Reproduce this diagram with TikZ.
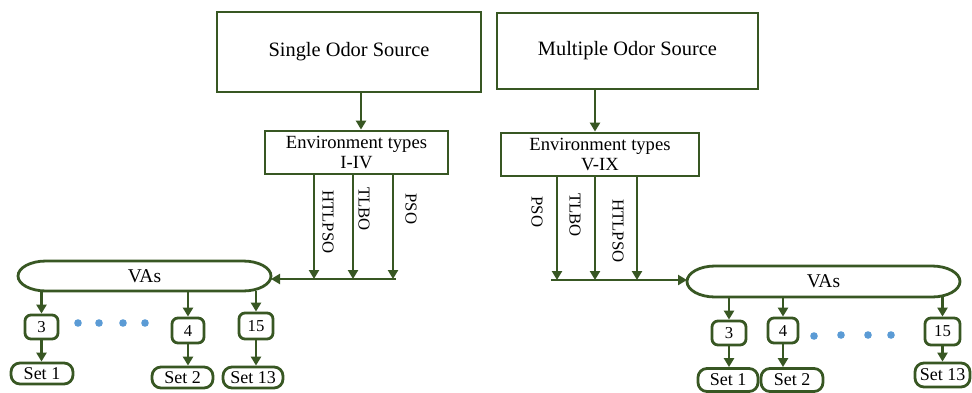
\documentclass[tikz,border=0pt]{standalone}
\usepackage{fontspec}
\setmainfont{Liberation Serif}
\usetikzlibrary{arrows.meta}
\definecolor{dgreen}{RGB}{56,87,35}
\definecolor{dotblue}{RGB}{91,155,213}
\newcommand\fBig{\fontsize{20.4}{24}\selectfont}
\newcommand\fEnv{\fontsize{18.6}{20}\selectfont}
\newcommand\fAlg{\fontsize{16.7}{18}\selectfont}
\newcommand\fVa{\fontsize{19.5}{22}\selectfont}
\newcommand\fNum{\fontsize{16.7}{18}\selectfont}
\newcommand\fSet{\fontsize{18}{20}\selectfont}
\begin{document}
\begin{tikzpicture}[x=1pt,y=-1pt,
  lw/.style={line width=2.8pt},
  srcbox/.style={draw=dgreen,lw,inner sep=0,font=\fBig},
  envbox/.style={draw=dgreen,lw,inner sep=0,align=center,font=\fEnv},
  alglabel/.style={rotate=-90,inner sep=0,font=\fAlg},
  vabox/.style={inner sep=0,outer sep=0,font=\fVa},
  numbox/.style={draw=dgreen,lw,rounded corners=6pt,inner sep=0,font=\fNum},
  setbox/.style={draw=dgreen,lw,rounded corners=9pt,inner sep=0,font=\fSet},
  arr/.style={draw=dgreen,lw,-{Triangle[length=9pt,width=10pt]}},
  dot/.style={fill=dotblue}
]
\useasboundingbox (0,0) rectangle (972,392);

% source boxes
\node[srcbox,minimum width=264pt,minimum height=80pt] (sos) at (349,52) {Single Odor Source};
\node[srcbox,minimum width=261pt,minimum height=76pt] (mos) at (627.5,51) {Multiple Odor Source};

% environment boxes
\node[envbox,minimum width=183pt,minimum height=43pt] (envL) at (356.5,152.5) {Environment types\\I-IV};
\node[envbox,minimum width=198pt,minimum height=43pt] (envR) at (600,154.5) {Environment types\\V-IX};

\coordinate (tL) at (361,0);
\coordinate (tR) at (595,0);
\draw[arr] (tL |- sos.south) -- (tL |- envL.north);
\draw[arr] (tR |- mos.south) -- (tR |- envR.north);

% VAs stadium shapes
\node[vabox,minimum width=253pt,minimum height=30pt] (vaL) at (144.5,276) {VAs};
\node[vabox,minimum width=273pt,minimum height=31pt] (vaR) at (823.5,281.5) {VAs};
\draw[draw=dgreen,lw] ([xshift=28pt]vaL.north west) -- ([xshift=-28pt]vaL.north east)
  arc[start angle=-90,end angle=90,x radius=28,y radius=15]
  -- ([xshift=28pt]vaL.south west)
  arc[start angle=90,end angle=270,x radius=28,y radius=15] -- cycle;
\draw[draw=dgreen,lw] ([xshift=28pt]vaR.north west) -- ([xshift=-28pt]vaR.north east)
  arc[start angle=-90,end angle=90,x radius=28,y radius=15.5]
  -- ([xshift=28pt]vaR.south west)
  arc[start angle=90,end angle=270,x radius=28,y radius=15.5] -- cycle;

% algorithm branches, left
\coordinate (aL1) at (314,279);
\coordinate (aL2) at (353,279);
\coordinate (aL3) at (393,279);
\coordinate (hL) at (396,279);
\draw[arr] (aL1 |- envL.south) -- (aL1);
\draw[arr] (aL2 |- envL.south) -- (aL2);
\draw[arr] (aL3 |- envL.south) -- (aL3);
\draw[arr] (hL) -- (hL -| vaL.east);
\node[alglabel] (lL1) at (328,222) {HTLPSO};
\node[alglabel] (lL2) at (364,209) {TLBO};
\node[alglabel] (lL3) at (411,209) {PSO};

% algorithm branches, right
\coordinate (aR1) at (557,280);
\coordinate (aR2) at (595,280);
\coordinate (aR3) at (637,280);
\coordinate (hR) at (551,280);
\draw[arr] (aR1 |- envR.south) -- (aR1);
\draw[arr] (aR2 |- envR.south) -- (aR2);
\draw[arr] (aR3 |- envR.south) -- (aR3);
\draw[arr] (hR) -- (hR -| vaR.west);
\node[alglabel] (lR1) at (537,212) {PSO};
\node[alglabel] (lR2) at (575,215) {TLBO};
\node[alglabel] (lR3) at (618,231) {HTLPSO};

% left results
\node[numbox,minimum width=33pt,minimum height=24pt] (n3L) at (41.5,327) {3};
\node[numbox,minimum width=32pt,minimum height=25pt] (n4L) at (188,330.5) {4};
\node[numbox,minimum width=34pt,minimum height=26pt] (n15L) at (256,326) {15};
\node[setbox,minimum width=62pt,minimum height=21pt] (s1L) at (42,373.5) {Set 1};
\node[setbox,minimum width=61pt,minimum height=21pt] (s2L) at (182.5,377.5) {Set 2};
\node[setbox,minimum width=60pt,minimum height=21pt] (s13L) at (253,377.5) {Set 13};
\draw[arr] (vaL.south -| n3L.north) -- (n3L.north);
\draw[arr] (vaL.south -| n4L.north) -- (n4L.north);
\draw[arr] (vaL.south -| n15L.north) -- (n15L.north);
\draw[arr] (n3L.south) -- (n3L.south |- s1L.north);
\draw[arr] (n4L.south) -- (n4L.south |- s2L.north);
\draw[arr] (n15L.south) -- (n15L.south |- s13L.north);
\foreach \x in {78,99,123,145} \fill[dot] (\x,323) circle[radius=3.8];

% right results
\node[numbox,minimum width=34pt,minimum height=24pt] (n3R) at (729,333) {3};
\node[numbox,minimum width=30pt,minimum height=25pt] (n4R) at (783,330.5) {4};
\node[numbox,minimum width=35pt,minimum height=27pt] (n15R) at (942.5,331.5) {15};
\node[setbox,minimum width=60pt,minimum height=23pt] (s1R) at (728,380) {Set 1};
\node[setbox,minimum width=62pt,minimum height=23pt] (s2R) at (792,380) {Set 2};
\node[setbox,minimum width=55pt,minimum height=24pt] (s13R) at (942.5,375) {Set 13};
\draw[arr] (vaR.south -| n3R.north) -- (n3R.north);
\draw[arr] (vaR.south -| n4R.north) -- (n4R.north);
\draw[arr] (vaR.south -| n15R.north) -- (n15R.north);
\draw[arr] (n3R.south) -- (n3R.south |- s1R.north);
\draw[arr] (n4R.south) -- (n4R.south |- s2R.north);
\draw[arr] (n15R.south) -- (n15R.south |- s13R.north);
\foreach \x/\y in {814/336,841/335,868/335,891/335} \fill[dot] (\x,\y) circle[radius=3.8];
\end{tikzpicture}
\end{document}
